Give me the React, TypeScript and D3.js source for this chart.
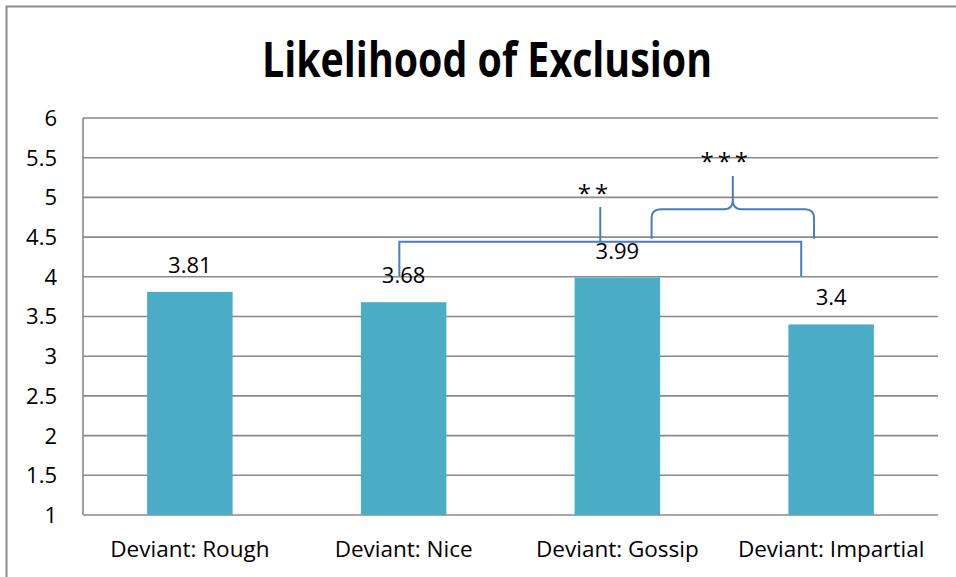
import React from "react";
import * as d3 from "d3";

const categories = ["Deviant: Rough", "Deviant: Nice", "Deviant: Gossip", "Deviant: Impartial"];
const values = [3.81, 3.68, 3.99, 3.4];
const valueLabels = ["3.81", "3.68", "3.99", "3.4"];
const yTicks = [1, 1.5, 2, 2.5, 3, 3.5, 4, 4.5, 5, 5.5, 6];
const title = "Likelihood of Exclusion";

// significance annotations in data units (x = category index, y = value)
const longBracket = { x0: 0.98, x1: 2.86, yTop: 4.44, yEnd: 4.01, xTick: 1.92, yTick: 4.88 };
const curlyBrace = { x0: 2.16, x1: 2.92, xMid: 2.54, yBase: 4.48, yArm: 4.85, yPeak: 5.27 };
const sigLabels = [
  { text: "**", x: 1.886, y: 4.94 },
  { text: "***", x: 2.5, y: 5.35 },
];

const W = 956;
const H = 577;
const left = 83;
const right = 938;
const top = 118;
const bottom = 515;

const BAR = "#4BACC6";
const GRID = "#8a8a8a";
const NOTE = "#4A7EBB";
const FONT = "'Open Sans', 'Noto Sans', sans-serif";

export default function App() {
  const y = d3.scaleLinear().domain([1, 6]).range([bottom, top]);
  const x = d3.scaleBand<string>().domain(categories).range([left, right]).paddingInner(0.6).paddingOuter(0.3);
  const xi = d3.scaleLinear().domain([-0.5, 3.5]).range([left, right]);

  const lb = longBracket;
  const bracketPath = d3.path();
  bracketPath.moveTo(xi(lb.x0), y(lb.yEnd));
  bracketPath.lineTo(xi(lb.x0), y(lb.yTop));
  bracketPath.lineTo(xi(lb.x1), y(lb.yTop));
  bracketPath.lineTo(xi(lb.x1), y(lb.yEnd));
  bracketPath.moveTo(xi(lb.xTick), y(lb.yTop));
  bracketPath.lineTo(xi(lb.xTick), y(lb.yTick));

  const cb = curlyBrace;
  const L = xi(cb.x0), R = xi(cb.x1), C = xi(cb.xMid);
  const base = y(cb.yBase), arm = y(cb.yArm), peak = y(cb.yPeak);
  const r = 9;
  const bp = d3.path();
  bp.moveTo(L, base);
  bp.lineTo(L, arm + r);
  bp.quadraticCurveTo(L, arm, L + r, arm);
  bp.lineTo(C - r, arm);
  bp.quadraticCurveTo(C, arm, C, arm - r);
  bp.lineTo(C, peak);
  bp.moveTo(C, arm - r);
  bp.quadraticCurveTo(C, arm, C + r, arm);
  bp.lineTo(R - r, arm);
  bp.quadraticCurveTo(R, arm, R, arm + r);
  bp.lineTo(R, base);

  return (
    <svg width={W} height={H} style={{ position: "absolute", left: 0, top: 0, background: "#fff" }}>
      <rect x={0} y={0} width={W} height={H} fill="#fff" />
      {/* outer chart border */}
      <path d={`M6.5,${H + 5}V6.5H${W + 5}`} fill="none" stroke="#8c8c8c" strokeWidth={2} />
      <text
        x={487}
        y={77}
        textAnchor="middle"
        fontFamily={FONT}
        fontWeight={700}
        fontSize={48}
        textLength={450}
        lengthAdjust="spacingAndGlyphs"
        fill="#000"
      >
        {title}
      </text>
      {/* gridlines */}
      {yTicks.map((t) => (
        <line key={t} x1={left} x2={right} y1={y(t)} y2={y(t)} stroke={GRID} strokeWidth={1.6} />
      ))}
      <line x1={left} x2={left} y1={top} y2={bottom} stroke={GRID} strokeWidth={1.6} />
      {yTicks.map((t) => (
        <text key={t} x={57} y={y(t)} dy="0.36em" textAnchor="end" fontFamily={FONT} fontSize={22} fill="#000">
          {String(t)}
        </text>
      ))}
      {/* bars */}
      {categories.map((c, i) => (
        <rect key={c} x={x(c)} y={y(values[i])} width={x.bandwidth()} height={y(1) - y(values[i])} fill={BAR} />
      ))}
      {categories.map((c, i) => (
        <text
          key={c}
          x={(x(c) as number) + x.bandwidth() / 2}
          y={y(values[i]) - 19}
          textAnchor="middle"
          fontFamily={FONT}
          fontSize={22}
          fill="#000"
        >
          {valueLabels[i]}
        </text>
      ))}
      {categories.map((c) => (
        <text
          key={c}
          x={(x(c) as number) + x.bandwidth() / 2}
          y={557}
          textAnchor="middle"
          fontFamily={FONT}
          fontSize={22.5}
          fill="#000"
        >
          {c}
        </text>
      ))}
      {/* annotations */}
      <path d={bracketPath.toString()} fill="none" stroke={NOTE} strokeWidth={2} />
      <path d={bp.toString()} fill="none" stroke={NOTE} strokeWidth={2} />
      {sigLabels.map((s) => (
        <text
          key={s.text}
          x={xi(s.x)}
          y={y(s.y)}
          dx={2}
          textAnchor="middle"
          fontFamily={FONT}
          fontSize={24}
          letterSpacing={4}
          fill="#000"
        >
          {s.text}
        </text>
      ))}
    </svg>
  );
}
